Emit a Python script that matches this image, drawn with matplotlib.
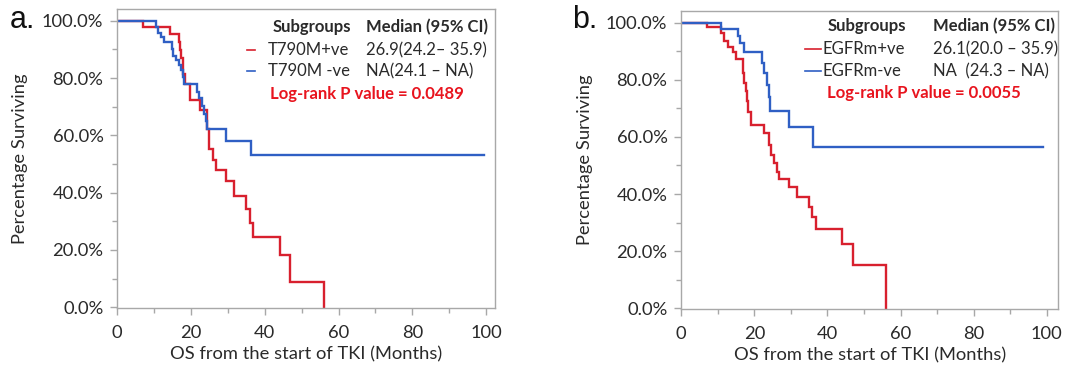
import numpy as np
import matplotlib
matplotlib.use('Agg')
import matplotlib.pyplot as plt

###############################################################################
# Data
###############################################################################
# panel a: T790M status
A_POS_T = [0, 6.9, 14.3, 16.8, 17.1, 17.4, 17.9, 18.3, 19.7, 22.3, 24.2,
           24.8, 26.0, 26.8, 29.5, 31.6, 35.0, 36.0, 36.9, 44.1, 46.9, 56.1]
A_POS_S = [100, 97.9, 95.4, 92.6, 89.8, 87.0, 81.4, 77.8, 72.3, 68.8, 62.1,
           55.1, 51.4, 47.9, 44.1, 38.9, 34.3, 29.3, 24.5, 18.2, 8.9, 0]
A_NEG_T = [0, 10.5, 11.1, 11.8, 12.7, 14.7, 15.2, 15.8, 16.8, 17.2, 17.7,
           18.1, 21.7, 22.2, 22.9, 23.5, 24.0, 24.3, 29.4, 36.2, 99.5]
A_NEG_S = [100, 97.9, 95.8, 94.4, 92.7, 90.0, 87.7, 86.3, 84.5, 82.8, 80.5,
           77.9, 75.2, 72.9, 70.3, 67.6, 65.0, 62.1, 58.0, 53.3, 53.3]
A_LABELS = ['T790M+ve', 'T790M -ve']
A_MEDIANS = ['26.9(24.2\u2013 35.9)', 'NA(24.1 \u2013 NA)']
A_PVAL = 'Log-rank P value = 0.0489'

# panel b: EGFR mutation status
B_POS_T = [0, 6.9, 10.9, 11.7, 12.9, 14.1, 15.0, 16.8, 17.2, 17.6, 18.1,
           18.3, 19.0, 22.5, 24.1, 24.5, 25.3, 26.1, 26.8, 29.5, 31.6, 35.0,
           35.9, 36.9, 44.1, 46.9, 55.9]
B_POS_S = [100, 98.4, 96.3, 93.7, 91.6, 89.6, 87.3, 82.5, 79.0, 76.0, 72.5,
           68.8, 64.2, 61.5, 57.2, 53.7, 50.8, 47.8, 45.3, 42.4, 38.9, 35.3,
           31.9, 27.9, 22.4, 15.0, 0]
B_NEG_T = [0, 10.8, 15.5, 16.1, 17.2, 22.0, 22.7, 23.4, 24.0, 24.4, 29.5,
           36.1, 99.0]
B_NEG_S = [100, 97.8, 95.3, 92.8, 89.8, 85.8, 82.3, 78.2, 74.1, 69.2, 63.6,
           56.4, 56.4]
B_LABELS = ['EGFRm+ve', 'EGFRm-ve']
B_MEDIANS = ['26.1(20.0 \u2013 35.9)', 'NA  (24.3 \u2013 NA)']
B_PVAL = 'Log-rank P value = 0.0055'

###############################################################################
# Style
###############################################################################
(RED, BLUE, PRED, GRY, TXT) = (
        '#d8202e', '#2f5fc4', '#e8141e', '#a8a8a8', '#2a2a2a'
    )
(FS, LFS) = (13.2, 12.0)
plt.rcParams['font.family'] = ['Lato', 'DejaVu Sans']
W, H = 1075, 366


def panel(rect, ylim, xmax, curves, labels, medians, pval, lay, tag, tagx):
    ax = fig.add_axes(rect)
    for (t, s, c) in curves:
        ax.step(t, s, where='post', color=c, lw=1.7, solid_joinstyle='miter')
    ax.set_xlim(0, xmax)
    ax.set_ylim(*ylim)
    ax.set_xticks(np.arange(0, 101, 20))
    ax.set_xticks(np.arange(10, 101, 20), minor=True)
    ax.set_yticks(np.arange(0, 101, 20))
    ax.set_yticks(np.arange(10, 101, 20), minor=True)
    ax.set_yticklabels(['{:.1f}%'.format(v) for v in np.arange(0, 101, 20)])
    for sp in ax.spines.values():
        sp.set_color(GRY)
        sp.set_linewidth(1.0)
    ax.tick_params(which='major', length=5, width=1, color=GRY,
                   labelsize=FS, labelcolor=TXT, pad=5)
    ax.tick_params(axis='x', which='major', pad=7)
    ax.tick_params(which='minor', length=3.5, width=1, color=GRY)
    ax.set_xlabel('OS from the start of TKI (Months)', fontsize=FS,
                  color=TXT, labelpad=4)
    ax.set_ylabel('Percentage Surviving', fontsize=FS, color=TXT)
    ax.yaxis.set_label_coords(lay[0], 0.5)
    # custom legend block
    (x0, x1, xm, ys, lx) = lay[1:]
    kw = dict(transform=ax.transAxes, fontsize=LFS, color=TXT, va='center')
    ax.text(x0 + 0.012, ys[0], 'Subgroups', fontweight='bold', **kw)
    ax.text(xm, ys[0], 'Median (95% CI)', fontweight='bold', **kw)
    for (i, c) in enumerate([RED, BLUE]):
        ax.plot(lx, [ys[i+1]]*2, color=c, lw=1.2, transform=ax.transAxes,
                clip_on=False)
        ax.text(x0, ys[i+1], labels[i], **kw)
        ax.text(xm, ys[i+1], medians[i], **kw)
    kw['color'] = PRED
    ax.text(x1, ys[3], pval, fontweight='bold', **kw)
    fig.text(tagx, 1 - 28/H, tag, fontsize=22, color='#111111',
             family='Liberation Sans', va='baseline')
    return ax


fig = plt.figure(figsize=(W/100, H/100), dpi=100)

###############################################################################
# Panel a
###############################################################################
panel([117.3/W, 1 - 308.3/H, (495 - 117.3)/W, (308.3 - 9.3)/H],
      (-0.35, 104.0), 102.4,
      [(A_POS_T, A_POS_S, RED), (A_NEG_T, A_NEG_S, BLUE)],
      A_LABELS, A_MEDIANS, A_PVAL,
      (-0.236, 0.399, 0.404, 0.658, [0.942, 0.864, 0.794, 0.717],
       [0.343, 0.364]),
      'a.', 10/W)

###############################################################################
# Panel b
###############################################################################
panel([681.3/W, 1 - 309/H, (1058 - 681.3)/W, (309 - 11)/H],
      (-0.25, 104.1), 103.1,
      [(B_POS_T, B_POS_S, RED), (B_NEG_T, B_NEG_S, BLUE)],
      B_LABELS, B_MEDIANS, B_PVAL,
      (-0.234, 0.376, 0.387, 0.668, [0.950, 0.872, 0.799, 0.725],
       [0.328, 0.372]),
      'b.', 572/W)

fig.savefig('out.png', dpi=100)
